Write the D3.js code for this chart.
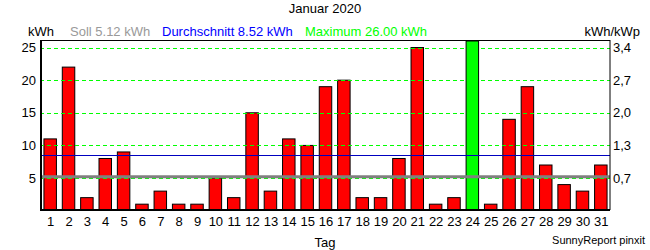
<!DOCTYPE html>
<html>
<head>
<meta charset="utf-8">
<script src="https://cdn.jsdelivr.net/npm/d3@7"></script>
<style>
  body { margin: 0; background: #fff; }
  text { font-family: "Liberation Sans", Arial, sans-serif; }
</style>
</head>
<body>
<svg id="chart" width="650" height="250"></svg>
<script>
// daily yield, January 2020
var days = d3.range(1, 32);
var values = [11, 22, 2, 8, 9, 1, 3, 1, 1, 5, 2, 15, 3, 11, 10, 19, 20, 2, 2, 8, 25, 1, 2, 26, 1, 14, 19, 7, 4, 3, 7];
var soll = 5.12;
var avg = 8.52;
var maxVal = 26.00;
var leftTicks = [5, 10, 15, 20, 25];
var rightTickLabels = ["0,7", "1,3", "2,0", "2,7", "3,4"];

var margin = {top: 40, right: 40, bottom: 40, left: 40};
var width = 650, height = 250;

var svg = d3.select("#chart");

var x = d3.scaleBand()
    .domain(days)
    .range([margin.left + 1, width - margin.right])
    .paddingInner(0.32)
    .paddingOuter(0.16);

var y = d3.scaleLinear()
    .domain([0, 26])
    .range([210.7, 41]);

var plotBottom = 209.5;

// bars
svg.append("g").selectAll("rect")
    .data(values)
    .join("rect")
    .attr("x", (d, i) => x(days[i]))
    .attr("y", d => y(d))
    .attr("width", x.bandwidth())
    .attr("height", d => plotBottom - y(d))
    .attr("fill", d => d === maxVal ? "#00ff00" : "#ff0000")
    .attr("stroke", "#000")
    .attr("stroke-width", 1);

// grid (dashed green)
svg.append("g").selectAll("line")
    .data(leftTicks)
    .join("line")
    .attr("x1", margin.left)
    .attr("x2", width - margin.right)
    .attr("y1", d => Math.round(y(d)) + 0.5)
    .attr("y2", d => Math.round(y(d)) + 0.5)
    .attr("stroke", "#00ff00")
    .attr("stroke-dasharray", "4,3");

// soll line
svg.append("line")
    .attr("x1", margin.left).attr("x2", width - margin.right)
    .attr("y1", y(soll) - 0.5).attr("y2", y(soll) - 0.5)
    .attr("stroke", "#808080").attr("stroke-width", 3);

// average line
svg.append("line")
    .attr("x1", margin.left).attr("x2", width - margin.right)
    .attr("y1", Math.round(y(avg)) + 0.5).attr("y2", Math.round(y(avg)) + 0.5)
    .attr("stroke", "#0000c0").attr("stroke-width", 1);

// frame
svg.append("rect")
    .attr("x", margin.left + 0.5).attr("y", 40.5)
    .attr("width", width - margin.left - margin.right - 0.5)
    .attr("height", plotBottom - 40.5)
    .attr("fill", "none").attr("stroke", "#000");
svg.append("line")
    .attr("x1", margin.left + 1.5).attr("x2", margin.left + 1.5)
    .attr("y1", 40).attr("y2", plotBottom + 1)
    .attr("stroke", "#000");
svg.append("line")
    .attr("x1", margin.left).attr("x2", width - margin.right)
    .attr("y1", plotBottom + 1).attr("y2", plotBottom + 1)
    .attr("stroke", "#000");

// left axis labels
svg.append("g").selectAll("text")
    .data(leftTicks)
    .join("text")
    .attr("x", 36)
    .attr("y", d => y(d) + 4.5)
    .attr("text-anchor", "end")
    .attr("font-size", 13)
    .text(d => d);

// right axis labels
svg.append("g").selectAll("text")
    .data(leftTicks)
    .join("text")
    .attr("x", 613)
    .attr("y", d => y(d) + 4.5)
    .attr("font-size", 13)
    .text((d, i) => rightTickLabels[i]);

// x labels
svg.append("g").selectAll("text")
    .data(days)
    .join("text")
    .attr("x", d => x(d) + x.bandwidth() / 2 + 0.5)
    .attr("y", 226)
    .attr("text-anchor", "middle")
    .attr("font-size", 13)
    .text(d => d);

// titles and legend
svg.append("text").attr("x", 325).attr("y", 13).attr("text-anchor", "middle")
    .attr("font-size", 13).text("Januar 2020");
svg.append("text").attr("x", 28).attr("y", 36).attr("font-size", 13).text("kWh");
svg.append("text").attr("x", 70).attr("y", 36).attr("font-size", 13).attr("fill", "#999999")
    .text("Soll " + soll.toFixed(2) + " kWh");
svg.append("text").attr("x", 162).attr("y", 36).attr("font-size", 13).attr("fill", "#0000ff")
    .text("Durchschnitt " + avg.toFixed(2) + " kWh");
svg.append("text").attr("x", 305).attr("y", 36).attr("font-size", 13).attr("fill", "#00ff00")
    .text("Maximum " + maxVal.toFixed(2) + " kWh");
svg.append("text").attr("x", 640).attr("y", 36).attr("text-anchor", "end")
    .attr("font-size", 13).text("kWh/kWp");
svg.append("text").attr("x", 325).attr("y", 247).attr("text-anchor", "middle")
    .attr("font-size", 13).text("Tag");
svg.append("text").attr("x", 645).attr("y", 244).attr("text-anchor", "end")
    .attr("font-size", 11).text("SunnyReport pinxit");
</script>
</body>
</html>
